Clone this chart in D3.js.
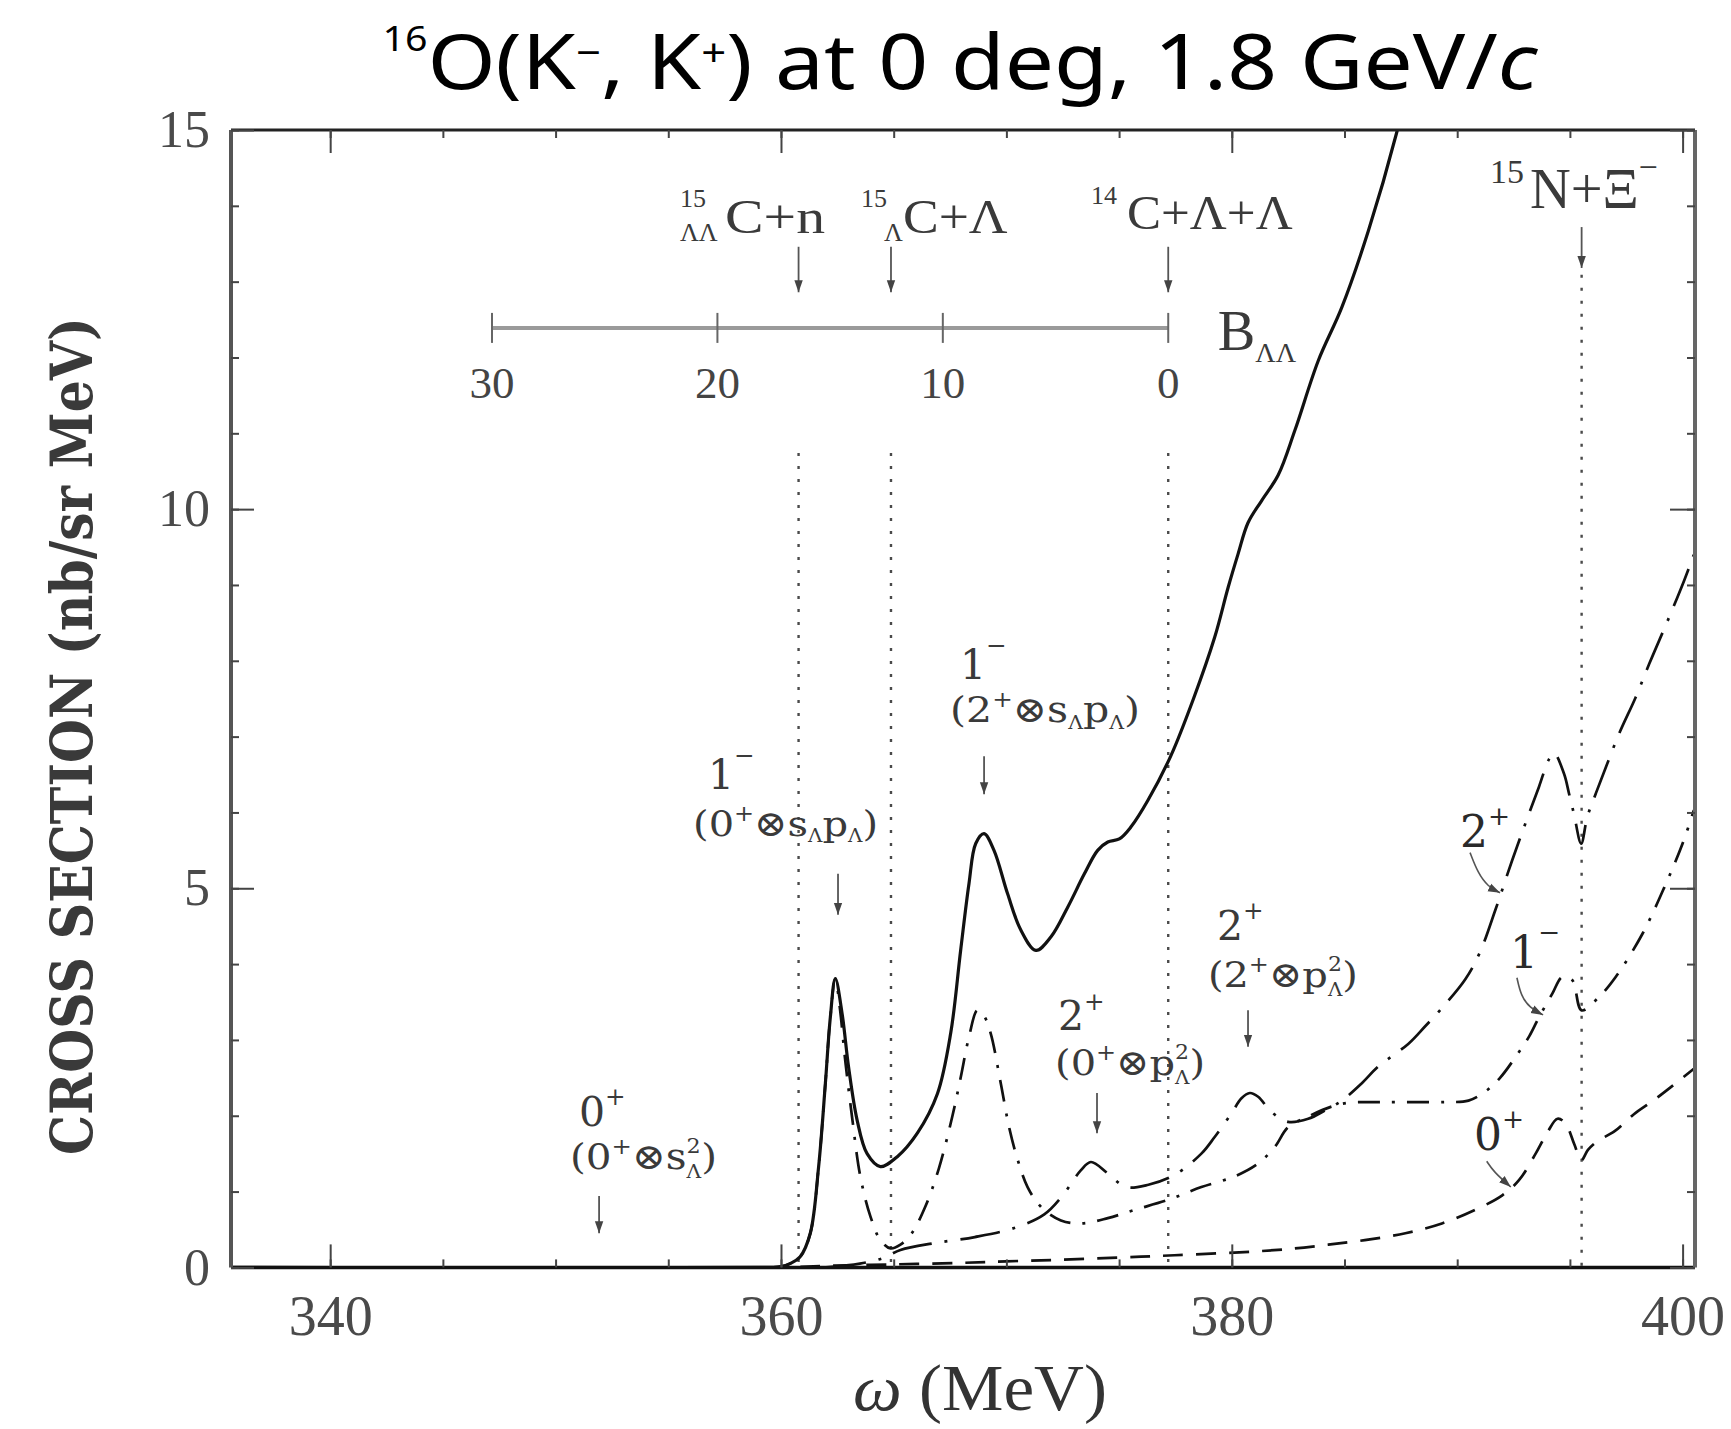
<!DOCTYPE html>
<html>
<head>
<meta charset="utf-8">
<script src="https://cdn.jsdelivr.net/npm/d3@7"></script>
<style>
  html, body { margin: 0; padding: 0; background: #fff; }
  svg { display: block; }
</style>
</head>
<body>
<svg id="chart" width="1731" height="1429"></svg>
<script>
// ---- data: excitation energy ω (MeV) and cross section (nb/sr MeV) ----
// total spectrum (solid)
const omegaTotal = [335.6, 359.5, 360.0, 360.4, 360.85, 361.3, 361.67, 361.97, 362.19, 362.41, 362.71, 363.0, 363.38, 363.82, 364.41, 365.16, 366.05, 366.94, 367.53, 367.97, 368.34, 368.64, 369.01, 369.45, 370.05, 370.64, 371.31, 371.98, 372.72, 373.46, 374.05, 374.5, 375.01, 375.53, 376.28, 377.3, 378.3, 379.24, 379.84, 380.28, 380.72, 381.32, 382.06, 382.8, 383.84, 384.88, 386.06, 387.32, 387.5];
const sigmaTotal = [0, 0, 0.01, 0.05, 0.14, 0.45, 1.33, 2.43, 3.30, 3.81, 3.35, 2.64, 1.94, 1.50, 1.33, 1.46, 1.77, 2.29, 3.09, 4.18, 5.06, 5.59, 5.72, 5.50, 4.93, 4.45, 4.18, 4.36, 4.75, 5.19, 5.50, 5.61, 5.65, 5.81, 6.16, 6.75, 7.5, 8.31, 8.97, 9.41, 9.82, 10.11, 10.45, 11.04, 11.96, 12.66, 13.67, 14.97, 15.2];

// 1- component
const omega1m = [359.5, 360.0, 360.4, 360.85, 361.3, 361.67, 361.97, 362.19, 362.41, 362.6, 362.85, 363.15, 363.52, 363.97, 364.41, 364.86, 365.3, 365.8, 366.4, 367.0, 367.6, 367.97, 368.35, 368.71, 369.0, 369.3, 369.75, 370.12, 370.5, 370.94, 371.53, 372.42, 373.31, 374.5, 375.7, 377.17, 378.65, 380.13, 381.17, 381.91, 382.5, 383.39, 384.42, 385.17, 386.5, 388.0, 389.5, 390.5, 391.25, 391.9, 392.6, 393.2, 393.63, 394.22, 394.66, 395.1, 395.52, 396.3, 397.03, 398.22, 399.26, 400.0, 400.5];
const sigma1m = [0, 0.01, 0.05, 0.14, 0.45, 1.33, 2.43, 3.30, 3.81, 3.45, 2.73, 1.99, 1.20, 0.67, 0.36, 0.25, 0.30, 0.45, 0.80, 1.30, 1.99, 2.50, 3.05, 3.39, 3.32, 3.09, 2.43, 1.85, 1.42, 1.06, 0.80, 0.62, 0.58, 0.65, 0.76, 0.89, 1.06, 1.20, 1.37, 1.59, 1.85, 1.99, 2.12, 2.17, 2.18, 2.18, 2.18, 2.20, 2.32, 2.50, 2.78, 3.05, 3.30, 3.61, 3.83, 3.79, 3.39, 3.57, 3.83, 4.40, 5.06, 5.59, 6.03];

// 2+ component
const omega2p = [362.0, 363.5, 364.5, 365.3, 366.8, 368.6, 370.35, 371.68, 372.5, 373.3, 373.75, 374.5, 375.3, 376.3, 377.46, 378.65, 379.24, 379.98, 380.43, 380.8, 381.17, 381.76, 382.5, 383.39, 384.13, 384.88, 385.77, 386.5, 387.84, 388.58, 389.32, 390.36, 391.0, 391.7, 392.44, 393.18, 393.63, 394.07, 394.3, 394.74, 394.96, 395.18, 395.5, 395.77, 396.15, 396.6, 397.2, 397.92, 398.52, 399.41, 400.07, 400.5];
const sigma2p = [0, 0.05, 0.12, 0.23, 0.32, 0.40, 0.52, 0.70, 0.95, 1.28, 1.39, 1.24, 1.06, 1.09, 1.22, 1.50, 1.72, 2.03, 2.23, 2.30, 2.25, 2.05, 1.92, 1.96, 2.07, 2.20, 2.43, 2.65, 2.95, 3.18, 3.42, 3.80, 4.15, 4.72, 5.37, 5.98, 6.34, 6.70, 6.78, 6.51, 6.25, 5.98, 5.59, 5.94, 6.25, 6.60, 7.05, 7.52, 7.96, 8.58, 9.06, 9.40];

// 0+ component
const omega0p = [355.0, 360.0, 362.0, 365.0, 368.0, 370.0, 372.3, 375.0, 377.46, 381.0, 382.8, 384.28, 385.9, 387.7, 389.32, 390.8, 392.0, 392.74, 393.48, 394.0, 394.45, 394.8, 395.2, 395.5, 395.8, 396.2, 397.0, 397.84, 398.7, 399.49, 400.5];
const sigma0p = [0, 0, 0.02, 0.04, 0.06, 0.08, 0.10, 0.13, 0.16, 0.21, 0.25, 0.30, 0.36, 0.45, 0.58, 0.76, 0.95, 1.15, 1.50, 1.78, 1.96, 1.90, 1.62, 1.41, 1.55, 1.66, 1.80, 2.02, 2.20, 2.38, 2.62];

// tick labels
const xTickValues = [340, 360, 380, 400];
const yTickValues = [0, 5, 10, 15];
const bTickValues = [30, 20, 10, 0];

// breakup thresholds as two-Λ binding energy B_ΛΛ (MeV); B_ΛΛ = 0 sits at ω = omegaBzero
const thresholdB = [16.4, 12.3, 0];
const omegaBzero = 377.18;
// 15N + Ξ- threshold in ω
const omegaXi = 395.52;

// ---- scales ----
const svg = d3.select('#chart');
svg.append('rect').attr('width', 1731).attr('height', 1429).attr('fill', '#fff');

const plot = { left: 231, right: 1695, top: 130, bottom: 1267.4 };
const x = d3.scaleLinear().domain([335.6, 400.55]).range([plot.left, plot.right]);
const y = d3.scaleLinear().domain([0, 15]).range([plot.bottom, plot.top]);
const bScale = d3.scaleLinear().domain([0, 30]).range([x(omegaBzero), x(omegaBzero - 30)]);

const defs = svg.append('defs');
defs.append('clipPath').attr('id', 'plotClip')
  .append('rect')
  .attr('x', plot.left).attr('y', plot.top)
  .attr('width', plot.right - plot.left).attr('height', plot.bottom - plot.top);
defs.append('marker').attr('id', 'head')
  .attr('viewBox', '0 0 10 10').attr('refX', 10).attr('refY', 5)
  .attr('markerWidth', 12).attr('markerHeight', 12)
  .attr('markerUnits', 'userSpaceOnUse').attr('orient', 'auto')
  .append('path').attr('d', 'M0,1.5 L10,5 L0,8.5 Z').attr('fill', '#444');

const SERIF = "'Liberation Serif', 'Times New Roman', serif";
const SLAB = "'DejaVu Serif', serif";

// ---- text helpers ----
// rich text: parts {t, k:'n'|'sup'|'sub'|'stack'|'i', s:scale, r:raise/drop in em}
function rich(parent, px, py, parts, size, family, fill) {
  const t = parent.append('text')
    .attr('x', px).attr('y', py)
    .attr('font-family', family).attr('font-size', size).attr('fill', fill);
  let cur = 0, lastW = 0;
  for (const p of parts) {
    const k = p.k || 'n';
    const scale = p.s != null ? p.s : (k === 'n' || k === 'i' ? 1 : 0.62);
    let off = 0;
    if (k === 'sup') off = -(p.r != null ? p.r : 0.45) * size;
    if (k === 'sub' || k === 'stack') off = (p.r != null ? p.r : 0.22) * size;
    const ts = t.append('tspan').text(p.t)
      .attr('font-size', size * scale).attr('dy', off - cur);
    if (k === 'i') ts.attr('font-style', 'italic');
    if (k === 'stack') ts.attr('dx', -lastW);
    cur = off;
    lastW = ts.node().getComputedTextLength();
  }
  return t;
}
// horizontally rescale a group so its ink box has the given width
function squeeze(g, targetW, anchor) {
  const b = g.node().getBBox();
  if (!b.width) return;
  const sx = targetW / b.width;
  const ax = anchor === 'middle' ? b.x + b.width / 2 : (anchor === 'end' ? b.x + b.width : b.x);
  g.attr('transform', `translate(${ax},0) scale(${sx},1) translate(${-ax},0)`);
}
function arrow(parent, px, py1, py2, width) {
  parent.append('line')
    .attr('x1', px).attr('x2', px).attr('y1', py1).attr('y2', py2)
    .attr('stroke', '#555').attr('stroke-width', width || 1.8)
    .attr('marker-end', 'url(#head)');
}

// ---- title ----
{
  const g = svg.append('g');
  rich(g, 960, 89, [
    { t: '16', k: 'sup', s: 0.45, r: 0.5 },
    { t: 'O(K' },
    { t: '\u2212', k: 'sup', s: 0.5, r: 0.3 },
    { t: ', K' },
    { t: '+', k: 'sup', s: 0.5, r: 0.3 },
    { t: ') at 0 deg, 1.8 GeV/' },
    { t: 'c', k: 'i' }
  ], 76, "'Noto Sans', 'DejaVu Sans', sans-serif", '#000').attr('text-anchor', 'middle');
  squeeze(g, 1157, 'middle');
}

// ---- threshold guide lines (dotted) ----
const dotted = svg.append('g')
  .attr('stroke', '#4a4a4a').attr('stroke-width', 2.4).attr('stroke-dasharray', '3,10');
thresholdB.forEach(b => {
  dotted.append('line')
    .attr('x1', bScale(b)).attr('x2', bScale(b))
    .attr('y1', y(10.74)).attr('y2', y(0));
});
dotted.append('line')
  .attr('x1', x(omegaXi)).attr('x2', x(omegaXi))
  .attr('y1', y(13.09)).attr('y2', y(0));

// ---- spectra ----
const line = d3.line()
  .x(d => x(d[0])).y(d => y(d[1]))
  .curve(d3.curveCatmullRom.alpha(0.5));
const curves = svg.append('g').attr('clip-path', 'url(#plotClip)').attr('fill', 'none')
  .attr('stroke-linecap', 'butt').attr('stroke-linejoin', 'round');

curves.append('path').datum(d3.zip(omega0p, sigma0p)).attr('d', line)
  .attr('stroke', '#111').attr('stroke-width', 2.7).attr('stroke-dasharray', '20,13');
curves.append('path').datum(d3.zip(omega2p, sigma2p)).attr('d', line)
  .attr('stroke', '#111').attr('stroke-width', 2.7).attr('stroke-dasharray', '40,13,3,13');
curves.append('path').datum(d3.zip(omega1m, sigma1m)).attr('d', line)
  .attr('stroke', '#111').attr('stroke-width', 2.7).attr('stroke-dasharray', '22,12,3,12');
curves.append('path').datum(d3.zip(omegaTotal, sigmaTotal)).attr('d', line)
  .attr('stroke', '#111').attr('stroke-width', 3.2);

// ---- frame ----
const frame = svg.append('g');
frame.append('line').attr('x1', plot.left).attr('x2', plot.right).attr('y1', plot.top).attr('y2', plot.top)
  .attr('stroke', '#222').attr('stroke-width', 3);
frame.append('line').attr('x1', plot.left).attr('x2', plot.right).attr('y1', plot.bottom).attr('y2', plot.bottom)
  .attr('stroke', '#111').attr('stroke-width', 3.5);
frame.append('line').attr('x1', plot.left).attr('x2', plot.left).attr('y1', plot.top).attr('y2', plot.bottom)
  .attr('stroke', '#555').attr('stroke-width', 4);
frame.append('line').attr('x1', plot.right).attr('x2', plot.right).attr('y1', plot.top).attr('y2', plot.bottom)
  .attr('stroke', '#666').attr('stroke-width', 4);

// ---- axes (inward ticks) ----
function styleAxis(g) {
  g.select('.domain').remove();
  g.selectAll('.tick line').attr('stroke', '#444').attr('stroke-width', 2);
  g.selectAll('.tick text').attr('fill', '#4a4a4a');
  g.attr('font-family', SERIF);
}
const minorX = d3.range(340, 401, 5);
const minorY = d3.range(0, 16, 1);

svg.append('g').attr('transform', `translate(0,${plot.bottom})`)
  .call(d3.axisBottom(x).tickValues(minorX).tickSize(-8).tickFormat(''))
  .call(styleAxis);
svg.append('g').attr('transform', `translate(0,${plot.bottom})`)
  .call(d3.axisBottom(x).tickValues(xTickValues).tickSize(-23).tickPadding(28).tickFormat(d3.format('d')))
  .call(styleAxis).attr('font-size', 56);

svg.append('g').attr('transform', `translate(0,${plot.top})`)
  .call(d3.axisTop(x).tickValues(minorX).tickSize(-8).tickFormat(''))
  .call(styleAxis);
svg.append('g').attr('transform', `translate(0,${plot.top})`)
  .call(d3.axisTop(x).tickValues(xTickValues).tickSize(-23).tickFormat(''))
  .call(styleAxis);

svg.append('g').attr('transform', `translate(${plot.left},0)`)
  .call(d3.axisLeft(y).tickValues(minorY).tickSize(-8).tickFormat(''))
  .call(styleAxis);
svg.append('g').attr('transform', `translate(${plot.left},0)`)
  .call(d3.axisLeft(y).tickValues(yTickValues).tickSize(-23).tickPadding(21).tickFormat(d3.format('d')))
  .call(styleAxis).attr('font-size', 52);

svg.append('g').attr('transform', `translate(${plot.right},0)`)
  .call(d3.axisRight(y).tickValues(minorY).tickSize(-8).tickFormat(''))
  .call(styleAxis);
svg.append('g').attr('transform', `translate(${plot.right},0)`)
  .call(d3.axisRight(y).tickValues(yTickValues).tickSize(-25).tickFormat(''))
  .call(styleAxis);

// ---- axis titles ----
{
  const outer = svg.append('g').attr('transform', 'translate(92,736) rotate(-90)');
  const inner = outer.append('g');
  inner.append('text').attr('x', 0).attr('y', 0)
    .attr('text-anchor', 'middle')
    .attr('font-family', SLAB).attr('font-weight', 'bold')
    .attr('font-size', 58).attr('fill', '#3a3a3a')
    .text('CROSS SECTION (nb/sr MeV)');
  squeeze(inner, 838, 'middle');
}
{
  const g = svg.append('g');
  rich(g, 980, 1410, [
    { t: '\u03c9', k: 'i' },
    { t: ' (MeV)' }
  ], 66, SERIF, '#333').attr('text-anchor', 'middle');
  squeeze(g, 254, 'middle');
}

// ---- B_ΛΛ scale ----
const bAxisY = y(12.39);
const bAxis = svg.append('g');
bAxis.append('line')
  .attr('x1', bScale(0)).attr('x2', bScale(30)).attr('y1', bAxisY).attr('y2', bAxisY)
  .attr('stroke', '#9a9a9a').attr('stroke-width', 4);
bAxis.selectAll('line.btick').data(bTickValues).join('line').attr('class', 'btick')
  .attr('x1', d => bScale(d)).attr('x2', d => bScale(d))
  .attr('y1', bAxisY - 15).attr('y2', bAxisY + 15)
  .attr('stroke', '#666').attr('stroke-width', 2);
bAxis.selectAll('text.blabel').data(bTickValues).join('text').attr('class', 'blabel')
  .attr('x', d => bScale(d)).attr('y', y(11.47))
  .attr('text-anchor', 'middle')
  .attr('font-family', SERIF).attr('font-size', 45).attr('fill', '#444')
  .text(d => d);
{
  const g = bAxis.append('g');
  rich(g, x(379.38), y(12.10), [
    { t: 'B' },
    { t: '\u039b\u039b', k: 'sub', s: 0.5, r: 0.22 }
  ], 56, SERIF, '#3a3a3a');
  squeeze(g, 79, 'start');
}

// ---- threshold labels and arrows ----
const thr = svg.append('g');
function preScripted(supText, subText, pxPre, pxSub, mainParts, pxMain, baseY, supY, subY, size, supSize, mainW) {
  thr.append('text').attr('x', pxPre).attr('y', supY)
    .attr('font-family', SERIF).attr('font-size', supSize).attr('fill', '#3a3a3a').text(supText);
  if (subText) {
    thr.append('text').attr('x', pxSub).attr('y', subY)
      .attr('font-family', SERIF).attr('font-size', supSize).attr('fill', '#3a3a3a').text(subText);
  }
  const g = thr.append('g');
  rich(g, pxMain, baseY, mainParts, size, SERIF, '#3a3a3a');
  squeeze(g, mainW, 'start');
}
preScripted('15', '\u039b\u039b', x(355.52), x(355.52), [{ t: 'C+n' }],
  x(357.52), y(13.64), y(13.98), y(13.54), 48, 26, 100);
preScripted('15', '\u039b', x(363.55), x(364.57), [{ t: 'C+\u039b' }],
  x(365.41), y(13.64), y(13.98), y(13.54), 48, 26, 105);
preScripted('14', null, x(373.75), 0, [{ t: 'C+\u039b+\u039b' }],
  x(375.35), y(13.69), y(14.02), 0, 48, 26, 166);
preScripted('15', null, x(391.45), 0, [{ t: 'N+\u039e' }, { t: '\u2212', k: 'sup', s: 0.6, r: 0.5 }],
  x(393.23), y(13.97), y(14.30), 0, 58, 34, 128);

thresholdB.forEach(b => arrow(thr, bScale(b), y(13.46), y(12.86)));
arrow(thr, x(omegaXi), y(13.72), y(13.18));

// ---- state labels ----
const states = svg.append('g');
const SUPP = { k: 'sup', s: 0.6, r: 0.42 };
const stateLayout = [
  { main: [{ t: '0' }, { t: '+', k: 'sup', s: 0.6, r: 0.5 }], mx: 351.04, my: 1.87,
    paren: [{ t: '(0' }, Object.assign({ t: '+' }, SUPP), { t: '\u2297s' }, { t: '2', k: 'sup', s: 0.55, r: 0.45 }, { t: '\u039b', k: 'stack', s: 0.5, r: 0.25 }, { t: ')' }],
    px: 350.64, py: 1.30, pw: 147, ax: 351.93, ay: [0.94, 0.45] },
  { main: [{ t: '1' }, { t: '\u2212', k: 'sup', s: 0.6, r: 0.6 }], mx: 356.76, my: 6.31,
    paren: [{ t: '(0' }, Object.assign({ t: '+' }, SUPP), { t: '\u2297s' }, { t: '\u039b', k: 'sub', s: 0.5, r: 0.18 }, { t: 'p' }, { t: '\u039b', k: 'sub', s: 0.5, r: 0.18 }, { t: ')' }],
    px: 356.10, py: 5.69, pw: 185, ax: 362.53, ay: [5.19, 4.65] },
  { main: [{ t: '1' }, { t: '\u2212', k: 'sup', s: 0.6, r: 0.6 }], mx: 367.94, my: 7.76,
    paren: [{ t: '(2' }, Object.assign({ t: '+' }, SUPP), { t: '\u2297s' }, { t: '\u039b', k: 'sub', s: 0.5, r: 0.18 }, { t: 'p' }, { t: '\u039b', k: 'sub', s: 0.5, r: 0.18 }, { t: ')' }],
    px: 367.50, py: 7.19, pw: 190, ax: 369.01, ay: [6.74, 6.24] },
  { main: [{ t: '2' }, { t: '+', k: 'sup', s: 0.6, r: 0.5 }], mx: 372.29, my: 3.13,
    paren: [{ t: '(0' }, Object.assign({ t: '+' }, SUPP), { t: '\u2297p' }, { t: '2', k: 'sup', s: 0.55, r: 0.45 }, { t: '\u039b', k: 'stack', s: 0.5, r: 0.25 }, { t: ')' }],
    px: 372.16, py: 2.54, pw: 150, ax: 374.02, ay: [2.30, 1.77] },
  { main: [{ t: '2' }, { t: '+', k: 'sup', s: 0.6, r: 0.5 }], mx: 379.34, my: 4.32,
    paren: [{ t: '(2' }, Object.assign({ t: '+' }, SUPP), { t: '\u2297p' }, { t: '2', k: 'sup', s: 0.55, r: 0.45 }, { t: '\u039b', k: 'stack', s: 0.5, r: 0.25 }, { t: ')' }],
    px: 378.94, py: 3.70, pw: 150, ax: 380.72, ay: [3.39, 2.91] }
];
stateLayout.forEach(s => {
  rich(states, x(s.mx), y(s.my), s.main, 41, SLAB, '#3a3a3a');
  const g = states.append('g');
  rich(g, x(s.px), y(s.py), s.paren, 36, SLAB, '#3a3a3a');
  squeeze(g, s.pw, 'start');
  arrow(states, x(s.ax), y(s.ay[0]), y(s.ay[1]));
});

// ---- multipole curve labels with curved leaders ----
const leader = d3.line().x(d => x(d[0])).y(d => y(d[1])).curve(d3.curveBasis);
const curveLabels = [
  { parts: [{ t: '2' }, { t: '+', k: 'sup', s: 0.6, r: 0.5 }], lx: 390.12, ly: 5.55,
    path: [[390.57, 5.47], [390.92, 5.20], [391.37, 5.02], [391.90, 4.94]] },
  { parts: [{ t: '1' }, { t: '\u2212', k: 'sup', s: 0.6, r: 0.6 }], lx: 392.34, ly: 3.95,
    path: [[392.65, 3.82], [392.83, 3.58], [393.23, 3.42], [393.81, 3.33]] },
  { parts: [{ t: '0' }, { t: '+', k: 'sup', s: 0.6, r: 0.5 }], lx: 390.74, ly: 1.55,
    path: [[391.31, 1.40], [391.62, 1.26], [392.38, 1.06]] }
];
curveLabels.forEach(c => {
  rich(states, x(c.lx), y(c.ly), c.parts, 44, SLAB, '#2a2a2a');
  states.append('path').attr('d', leader(c.path))
    .attr('fill', 'none').attr('stroke', '#555').attr('stroke-width', 1.6)
    .attr('marker-end', 'url(#head)');
});
</script>
</body>
</html>
